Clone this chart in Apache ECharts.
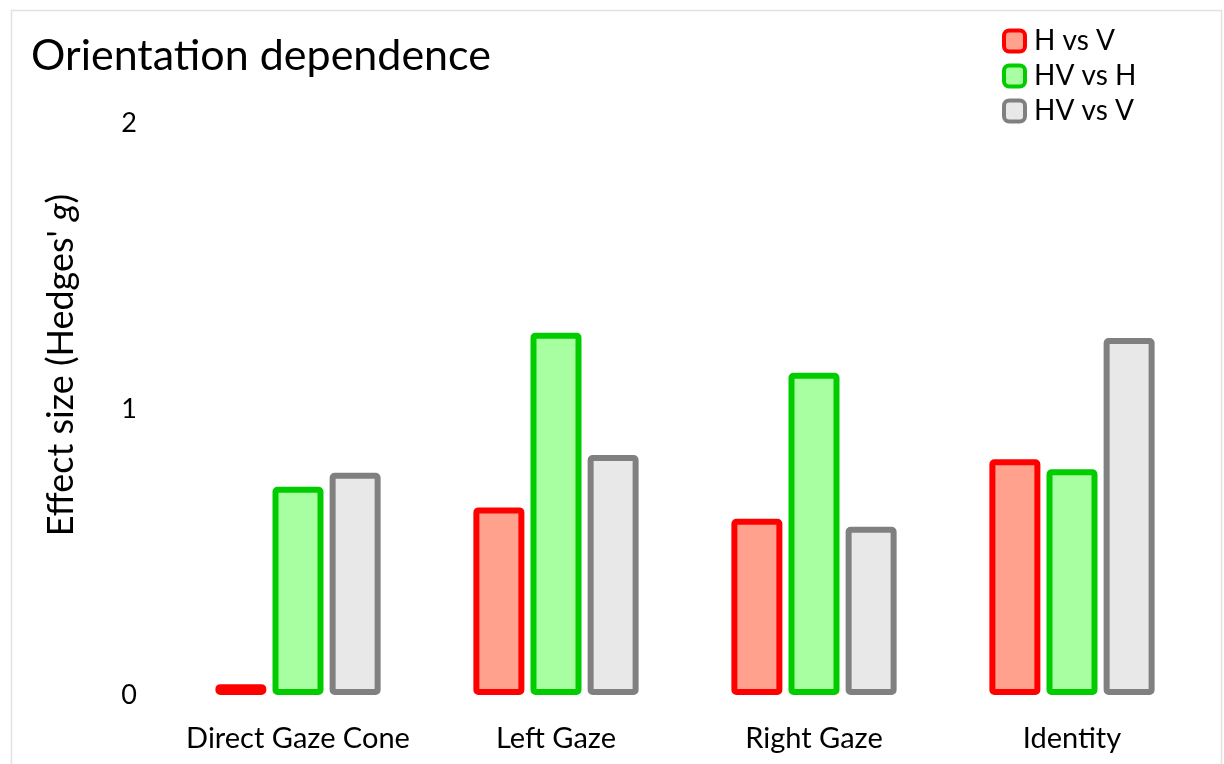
<!DOCTYPE html>
<html>
<head>
<meta charset="utf-8">
<script src="https://cdn.jsdelivr.net/npm/echarts@6/dist/echarts.min.js"></script>
<style>
  html, body { margin: 0; padding: 0; background: #fff; }
  #myChart { width: 1224px; height: 764px; }
</style>
</head>
<body>
<div id="myChart"></div>
<script>
// categories and values
var categories = ['Direct Gaze Cone', 'Left Gaze', 'Right Gaze', 'Identity'];
var hVsV = [0.038, 0.656, 0.616, 0.824];
var hvVsH = [0.728, 1.267, 1.127, 0.789];
var hvVsV = [0.777, 0.839, 0.588, 1.248];
var yTicks = [0, 1, 2];

var font = 'Lato';

function barSeries(name, data, fill, stroke) {
  return {
    name: name,
    type: 'bar',
    data: data,
    barWidth: 51,
    barGap: '12%',
    itemStyle: {
      color: fill,
      borderColor: stroke,
      borderWidth: 6,
      borderRadius: 2
    }
  };
}

var option = {
  backgroundColor: '#fff',
  animation: false,
  title: {
    text: 'Orientation dependence',
    left: 26,
    top: 30,
    textStyle: { fontFamily: font, fontSize: 43, fontWeight: 'normal', color: '#000' }
  },
  legend: {
    orient: 'vertical',
    left: 997,
    top: 22,
    itemWidth: 21,
    itemHeight: 21,
    itemGap: 7,
    icon: 'roundRect',
    itemStyle: { borderWidth: 4 },
    textStyle: { fontFamily: font, fontSize: 28, color: '#000', padding: [0, 0, 0, 4] }
  },
  grid: { left: 169, right: 23, top: 123, bottom: 69 },
  xAxis: {
    type: 'category',
    data: categories,
    axisLine: { show: false },
    axisTick: { show: false },
    axisLabel: { interval: 0, fontFamily: font, fontSize: 29, color: '#000', margin: 29 }
  },
  yAxis: {
    type: 'value',
    min: yTicks[0],
    max: yTicks[yTicks.length - 1],
    interval: 1,
    axisLine: { show: false },
    axisTick: { show: false },
    splitLine: { show: false },
    axisLabel: { fontFamily: font, fontSize: 27, color: '#000', margin: 32 }
  },
  graphic: [
    {
      type: 'rect',
      shape: { x: 11.5, y: 10.5, width: 1210, height: 800 },
      style: { fill: 'none', stroke: '#e2e2e2', lineWidth: 1.5 },
      silent: true
    },
    {
      type: 'text',
      x: 61,
      y: 365,
      rotation: Math.PI / 2,
      style: {
        text: '{a|Effect size (Hedges\' }{b|g}{a|)}',
        align: 'center',
        verticalAlign: 'middle',
        rich: {
          a: { fontFamily: font, fontSize: 36, fill: '#000' },
          b: { fontFamily: font, fontSize: 36, fontStyle: 'italic', fill: '#000' }
        }
      }
    }
  ],
  series: [
    barSeries('H vs V', hVsV, '#ffa18c', '#ff0000'),
    barSeries('HV vs H', hvVsH, '#a8ffa2', '#00cc00'),
    barSeries('HV vs V', hvVsV, '#e8e8e8', '#808080')
  ]
};

var myChart = echarts.init(document.getElementById('myChart'));
myChart.setOption(option);
</script>
</body>
</html>
